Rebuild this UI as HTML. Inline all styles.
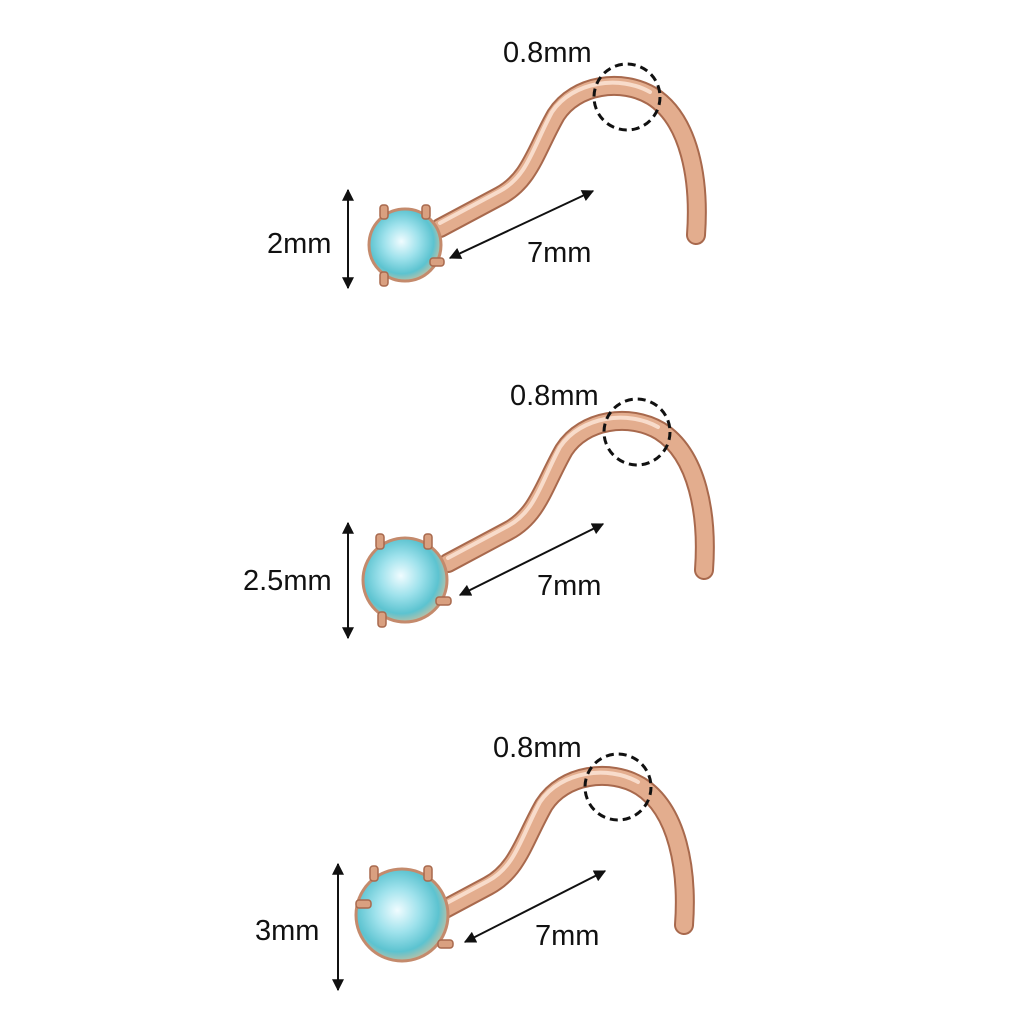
<!DOCTYPE html>
<html><head><meta charset="utf-8"><style>
html,body{margin:0;padding:0;background:#fff;}
svg{display:block;}
text{font-family:"Liberation Sans",sans-serif;font-size:29px;fill:#111;}
</style></head><body>
<svg width="1024" height="1024" viewBox="0 0 1024 1024" xmlns="http://www.w3.org/2000/svg">
<defs>
<radialGradient id="gem" cx="0.45" cy="0.45" r="0.6">
<stop offset="0" stop-color="#f0fcff"/><stop offset="0.4" stop-color="#9fe2ec"/><stop offset="0.75" stop-color="#5cc3d0"/><stop offset="1" stop-color="#d8c09a"/>
</radialGradient>
<marker id="ar" viewBox="0 0 10 10" refX="9" refY="5" markerWidth="6" markerHeight="6" orient="auto-start-reverse">
<path d="M0,0 L10,5 L0,10 z" fill="#111"/></marker>
<g id="wire">
<path d="M440 228 L500 196 C530 180 536 150 556 115 C576 84 622 78 652 96 C690 120 700 180 696 235" fill="none" stroke="#a8694d" stroke-width="20" stroke-linecap="round"/>
<path d="M440 228 L500 196 C530 180 536 150 556 115 C576 84 622 78 652 96 C690 120 700 180 696 235" fill="none" stroke="#e3ad8e" stroke-width="16" stroke-linecap="round"/>
<path d="M440 223 L500 191 C528 176 533 147 552 112 C573 81 620 75 650 92" fill="none" stroke="#f8dccb" stroke-width="4" stroke-linecap="round"/>
</g>
</defs>

<!-- Piece 1 -->
<use href="#wire"/>
<circle cx="405" cy="245" r="36" fill="url(#gem)" stroke="#c48a6c" stroke-width="3"/>
<g fill="#d9a080" stroke="#a8694d" stroke-width="1.5">
<rect x="380" y="205" width="8" height="14" rx="3"/><rect x="422" y="205" width="8" height="14" rx="3"/>
<rect x="380" y="272" width="8" height="14" rx="3"/><rect x="430" y="258" width="14" height="8" rx="3"/></g>
<circle cx="627" cy="97" r="33" fill="none" stroke="#111" stroke-width="3" stroke-dasharray="8,5"/>
<text x="503" y="62">0.8mm</text>
<line x1="348" y1="190" x2="348" y2="288" stroke="#111" stroke-width="2" marker-start="url(#ar)" marker-end="url(#ar)"/>
<text x="267" y="253">2mm</text>
<line x1="450" y1="258" x2="593" y2="191" stroke="#111" stroke-width="2" marker-start="url(#ar)" marker-end="url(#ar)"/>
<text x="527" y="262">7mm</text>

<!-- Piece 2 -->
<use href="#wire" transform="translate(8,335)"/>
<circle cx="405" cy="580" r="42" fill="url(#gem)" stroke="#c48a6c" stroke-width="3"/>
<g fill="#d9a080" stroke="#a8694d" stroke-width="1.5">
<rect x="376" y="534" width="8" height="15" rx="3"/><rect x="424" y="534" width="8" height="15" rx="3"/>
<rect x="378" y="612" width="8" height="15" rx="3"/><rect x="436" y="597" width="15" height="8" rx="3"/></g>
<circle cx="637" cy="432" r="33" fill="none" stroke="#111" stroke-width="3" stroke-dasharray="8,5"/>
<text x="510" y="405">0.8mm</text>
<line x1="348" y1="523" x2="348" y2="638" stroke="#111" stroke-width="2" marker-start="url(#ar)" marker-end="url(#ar)"/>
<text x="243" y="590">2.5mm</text>
<line x1="460" y1="595" x2="603" y2="524" stroke="#111" stroke-width="2" marker-start="url(#ar)" marker-end="url(#ar)"/>
<text x="537" y="595">7mm</text>

<!-- Piece 3 -->
<use href="#wire" transform="translate(-12,690)"/>
<circle cx="402" cy="915" r="46" fill="url(#gem)" stroke="#c48a6c" stroke-width="3"/>
<g fill="#d9a080" stroke="#a8694d" stroke-width="1.5">
<rect x="370" y="866" width="8" height="15" rx="3"/><rect x="424" y="866" width="8" height="15" rx="3"/>
<rect x="356" y="900" width="15" height="8" rx="3"/><rect x="438" y="940" width="15" height="8" rx="3"/></g>
<circle cx="618" cy="787" r="33" fill="none" stroke="#111" stroke-width="3" stroke-dasharray="8,5"/>
<text x="493" y="757">0.8mm</text>
<line x1="338" y1="864" x2="338" y2="990" stroke="#111" stroke-width="2" marker-start="url(#ar)" marker-end="url(#ar)"/>
<text x="255" y="940">3mm</text>
<line x1="465" y1="942" x2="605" y2="871" stroke="#111" stroke-width="2" marker-start="url(#ar)" marker-end="url(#ar)"/>
<text x="535" y="945">7mm</text>
</svg>
</body></html>
